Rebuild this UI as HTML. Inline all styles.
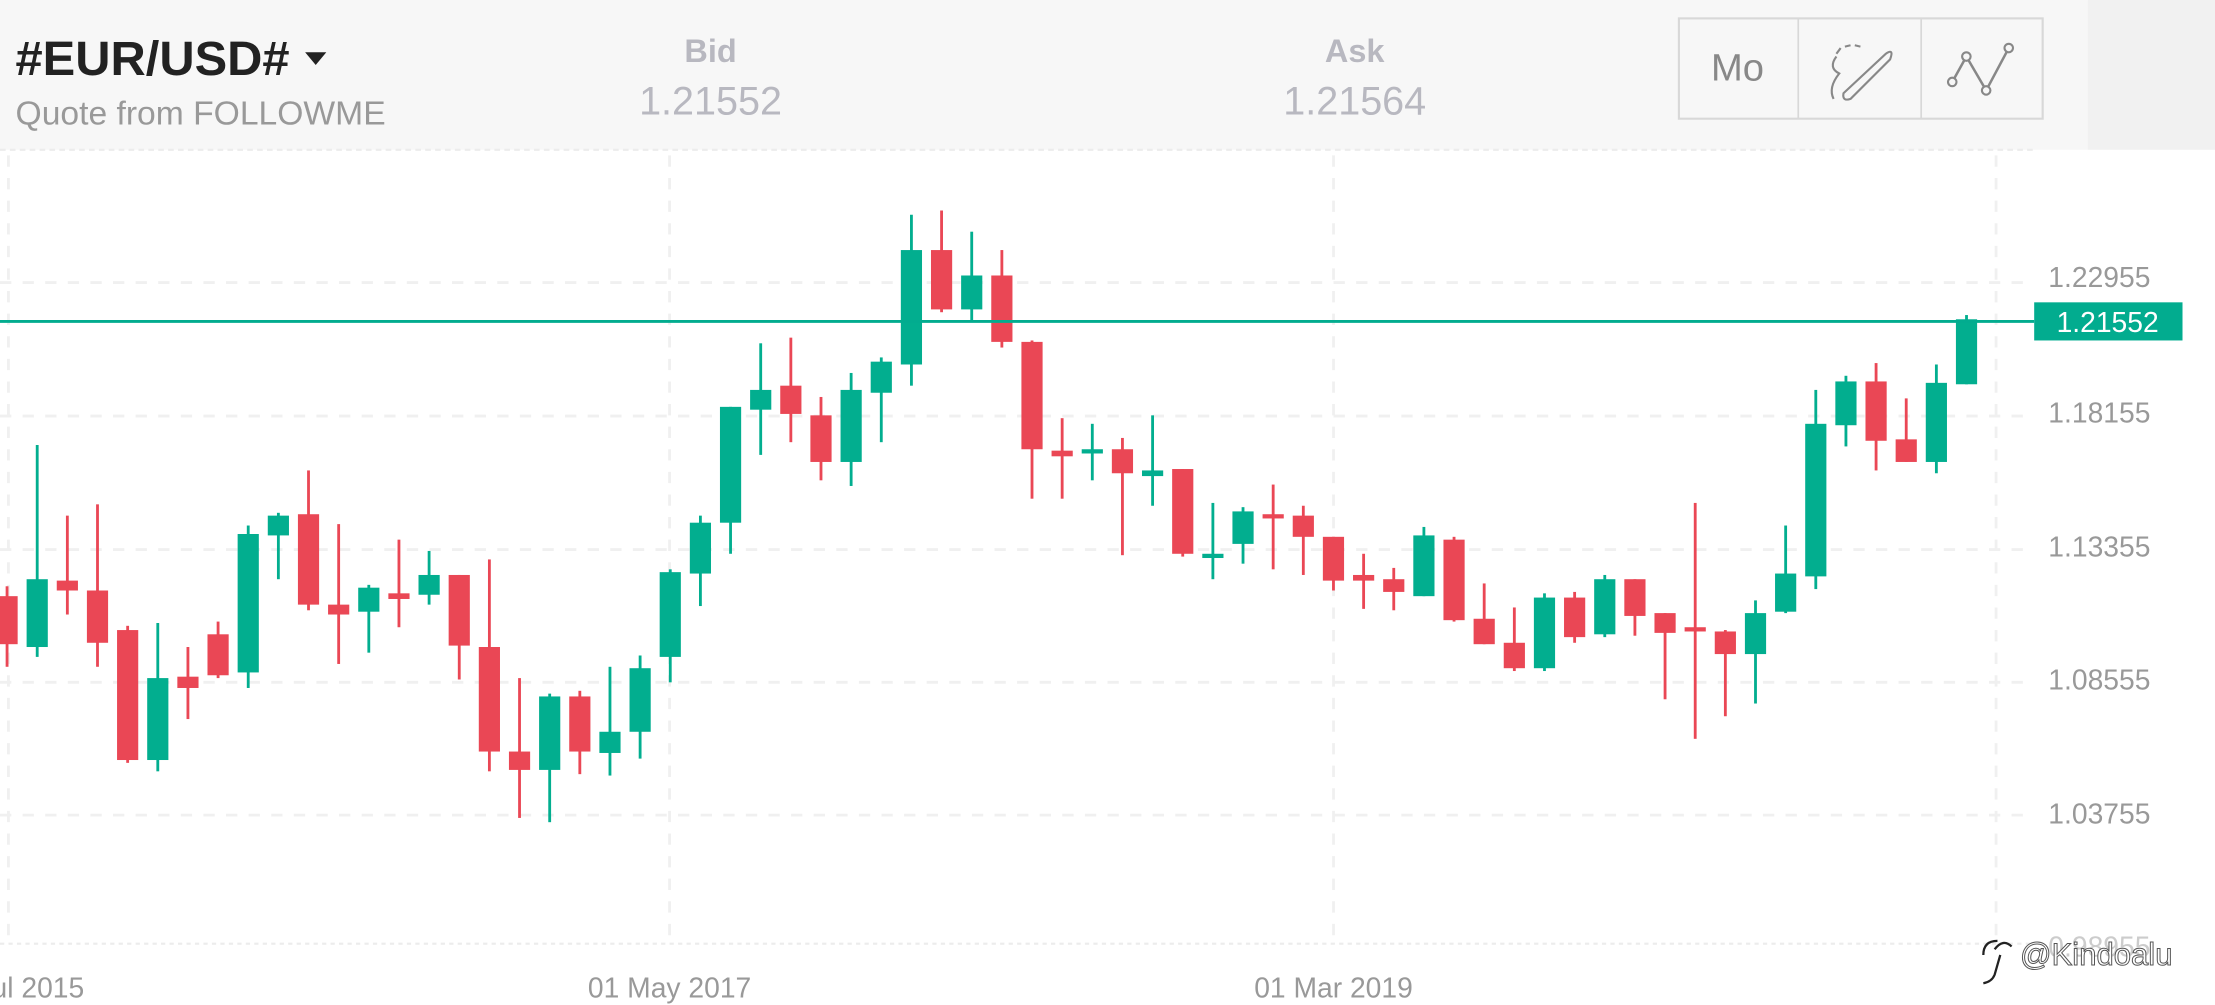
<!DOCTYPE html>
<html><head><meta charset="utf-8"><style>
html,body{margin:0;padding:0;background:#fff;}
svg{display:block;}
</style></head><body>
<svg id="s" width="2215" height="1005" viewBox="0 0 1568 711.4" xmlns="http://www.w3.org/2000/svg" font-family="Liberation Sans, sans-serif">
<rect x="0" y="0" width="1568" height="711.4" fill="#fff"/>
<rect x="0" y="0" width="1478" height="106" fill="#f7f7f7"/>
<rect x="1478" y="0" width="90" height="106" fill="#f1f1f1"/>
<line x1="0" y1="106" x2="1440" y2="106" stroke="#ececec" stroke-width="1.5" stroke-dasharray="4,3"/>
<g stroke="#f0f0f0" stroke-width="2" stroke-dasharray="8,8">
<line x1="6" y1="110" x2="6" y2="670"/><line x1="474" y1="110" x2="474" y2="670"/>
<line x1="944" y1="110" x2="944" y2="670"/><line x1="1413" y1="110" x2="1413" y2="670"/>
<line x1="0" y1="200" x2="1435" y2="200"/><line x1="0" y1="294.5" x2="1435" y2="294.5"/>
<line x1="0" y1="389" x2="1435" y2="389"/><line x1="0" y1="483" x2="1435" y2="483"/>
<line x1="0" y1="577" x2="1435" y2="577"/>
</g>
<line x1="0" y1="668" x2="1440" y2="668" stroke="#ececec" stroke-width="1.5" stroke-dasharray="3,3"/>
<g id="c"></g>
<line x1="0" y1="227.5" x2="1440" y2="227.5" stroke="#02ac8f" stroke-width="2"/>
<rect x="1440" y="214" width="105" height="27" fill="#02ac8f"/>
<text x="1492" y="235" font-size="20" fill="#fff" text-anchor="middle">1.21552</text>
<g font-size="20" fill="#999">
<text x="1450" y="203">1.22955</text><text x="1450" y="299">1.18155</text>
<text x="1450" y="394">1.13355</text><text x="1450" y="488">1.08555</text>
<text x="1450" y="583">1.03755</text><text x="1450" y="677" fill="#ccc">0.98955</text>
</g>
<g font-size="20" fill="#999">
<text x="-6" y="706">ul 2015</text>
<text x="474" y="706" text-anchor="middle">01 May 2017</text>
<text x="944" y="706" text-anchor="middle">01 Mar 2019</text>
</g>
<path d="M1412 672 q6 -8 12 -2 M1404 676 q0 -10 10 -10 M1416 676 l-4 14 q-2 5 -8 6" stroke="#222" stroke-width="1.6" fill="none"/>
<text x="1430" y="683" font-size="22" fill="#fff" stroke="#555" stroke-width="0.7">@Kindoalu</text>
<text x="11" y="53" font-size="34" font-weight="bold" fill="#222" textLength="194" lengthAdjust="spacingAndGlyphs">#EUR/USD#</text>
<path d="M216 37 L231 37 L223.5 46 Z" fill="#222"/>
<text x="11" y="88" font-size="23.5" fill="#999" textLength="262" lengthAdjust="spacingAndGlyphs">Quote from FOLLOWME</text>
<text x="503" y="44" font-size="23" font-weight="bold" fill="#b8b8c0" text-anchor="middle">Bid</text>
<text x="503" y="81" font-size="28" fill="#b8b8c0" text-anchor="middle">1.21552</text>
<text x="959" y="44" font-size="23" font-weight="bold" fill="#b8b8c0" text-anchor="middle">Ask</text>
<text x="959" y="81" font-size="28" fill="#b8b8c0" text-anchor="middle">1.21564</text>
<rect x="1188.5" y="13" width="257.5" height="71" fill="#f7f7f7" stroke="#d8d8d8" stroke-width="1.5"/>
<line x1="1273" y1="13" x2="1273" y2="84" stroke="#d8d8d8" stroke-width="1.2"/>
<line x1="1360" y1="13" x2="1360" y2="84" stroke="#d8d8d8" stroke-width="1.2"/>
<text x="1230" y="57" font-size="27" fill="#888" text-anchor="middle">Mo</text>
<path d="M1300 40 q-6 8 2 12 q-8 10 -4 18 M1305 66 l30 -28 q6 -4 3 4 l-28 28 q-6 2 -5 -4 Z" stroke="#888" stroke-width="1.5" fill="none"/>
<path d="M1300 38 l3 -4 M1306 33 l4 -1 M1313 32 l4 1" stroke="#888" stroke-width="1.5"/>
<path d="M1382 58 l10 -18 l14 24 l16 -30" stroke="#888" stroke-width="1.8" fill="none"/>
<g fill="#f7f7f7" stroke="#888" stroke-width="1.5"><circle cx="1382" cy="58" r="3"/><circle cx="1392" cy="40" r="3"/><circle cx="1406" cy="64" r="3"/><circle cx="1422" cy="34" r="3"/></g>
</svg>
<script>
var d=[
[0,422,456,415,472],[1,410,458,315,465],[0,411,418,365,435],[0,418,455,357,472],[0,446,538,443,540],
[1,480,538,441,546],[0,479,487,458,509],[0,449,478,440,480],[1,378,476,372,487],[1,365,379,363,410],
[0,364,428,333,432],[0,428,435,371,470],[1,416,433,414,462],[0,420,424,382,444],[1,407,421,390,428],
[0,407,457,407,481],[0,458,532,396,546],[0,532,545,480,579],[1,493,545,491,582],[0,493,532,489,548],
[1,518,533,472,549],[1,473,518,464,537],[1,405,465,403,483],[1,370,406,365,429],[1,288,370,288,392],
[1,276,290,243,322],[0,273,293,239,313],[0,294,327,281,340],[1,276,327,264,344],[1,256,278,253,313],
[1,177,258,152,273],[0,177,219,149,221],[1,195,219,164,227],[0,195,242,177,246],[0,242,318,241,353],
[0,319,323,296,353],[1,318,321,300,340],[0,318,335,310,393],[1,333,337,294,358],[0,332,392,332,394],
[1,392,394,356,410],[1,362,385,359,399],[0,364,367,343,403],[0,365,380,358,407],[0,380,411,380,418],
[0,407,411,392,431],[0,410,419,402,432],[1,379,422,373,422],[0,382,439,380,440],[0,438,456,413,456],
[0,455,473,430,475],[1,423,473,420,475],[0,423,451,419,455],[1,410,449,407,451],[0,410,436,410,450],
[0,434,448,434,495],[0,444,447,356,523],[0,447,463,446,507],[1,434,463,425,498],[1,406,433,372,434],
[1,300,408,276,417],[1,270,301,266,316],[0,270,312,257,333],[0,311,327,282,327],[1,271,327,258,335],
[1,226,272,223,272]];
var g=document.getElementById('c'),h='';
for(var i=0;i<d.length;i++){var c=d[i],x=5+i*21.34,col=c[0]?'#02ae8f':'#ea4755';
var t=c[1],b=Math.max(c[2],c[1]+3);
h+='<rect x="'+(x-1)+'" y="'+c[3]+'" width="2" height="'+(c[4]-c[3])+'" fill="'+col+'"/>';
h+='<rect x="'+(x-7.5)+'" y="'+t+'" width="15" height="'+(b-t)+'" fill="'+col+'"/>';}
g.innerHTML=h;
</script>
</body></html>
